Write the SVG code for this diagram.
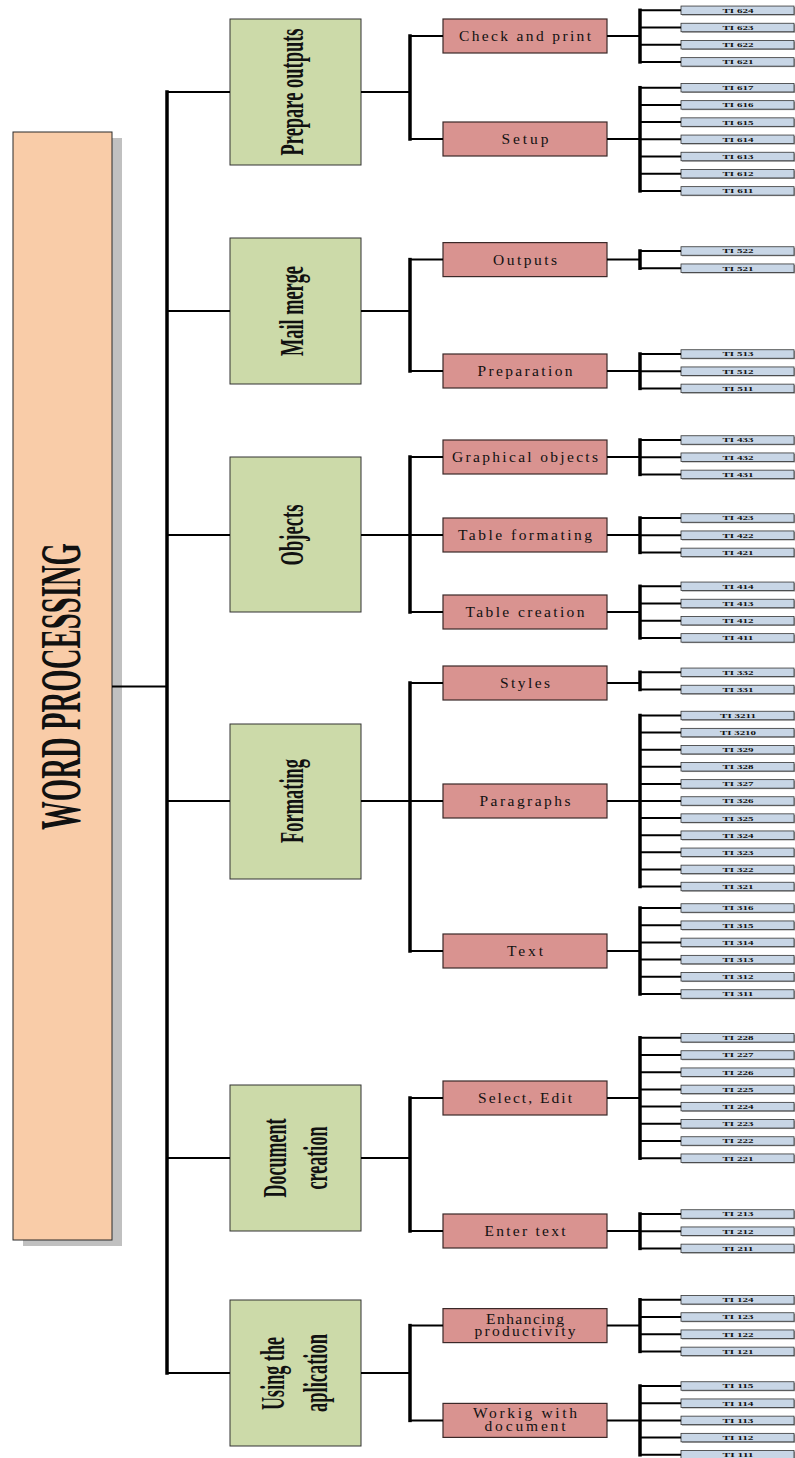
<svg xmlns="http://www.w3.org/2000/svg" width="795" height="1458" viewBox="0 0 795 1458">
  <style>
    .root { fill: #f9cca8; stroke: #2a2a2a; stroke-width: 1; }
    .shadow { fill: #c0c0c0; }
    .topic { fill: #ccdaa9; stroke: #333; stroke-width: 1; }
    .sub { fill: #d99390; stroke: #3a2828; stroke-width: 1.2; }
    .leaf { fill: #c8d6e6; stroke: #333; stroke-width: 0.8; }
    .leaf-sh { fill: #9a9a9a; }
    .t-root { font-family: "Liberation Serif", "Times New Roman", serif; font-weight: bold; font-size: 57px; fill: #111; }
    .t-topic { font-family: "Liberation Serif", "Times New Roman", serif; font-weight: bold; font-size: 34px; fill: #111; }
    .t-sub { font-family: "Liberation Serif", "Times New Roman", serif; font-size: 15.5px; fill: #111; }
    .t-leaf { font-family: "Liberation Serif", "Times New Roman", serif; font-weight: bold; font-size: 7px; fill: #111; }
    .h { fill: none; stroke: #000; stroke-width: 2; }
    .v { fill: none; stroke: #000; stroke-width: 3.5; stroke-linecap: square; }
  </style>

  <defs>
    <g id="item-box">
      <rect class="leaf-sh" x="682" y="-3.25" width="113" height="8.5"/>
      <rect class="leaf" x="681" y="-4.25" width="113" height="8.5"/>
    </g>
  </defs>

  <!-- root -->
  <g id="word-processing">
    <rect class="shadow" x="23" y="138" width="99" height="1108"/>
    <rect class="root" x="13" y="132" width="99" height="1108"/>
    <text class="t-root" transform="translate(80,686.5) rotate(-90)" text-anchor="middle" textLength="287" lengthAdjust="spacingAndGlyphs">WORD PROCESSING</text>
  </g>

  <!-- topics -->
  <g id="prepare-outputs">
    <rect class="topic" x="230" y="19" width="131" height="146"/>
    <text class="t-topic" transform="translate(303,92) rotate(-90)" text-anchor="middle" textLength="127" lengthAdjust="spacingAndGlyphs">Prepare outputs</text>
  </g>
  <g id="mail-merge">
    <rect class="topic" x="230" y="238" width="131" height="146"/>
    <text class="t-topic" transform="translate(303,311) rotate(-90)" text-anchor="middle" textLength="90" lengthAdjust="spacingAndGlyphs">Mail merge</text>
  </g>
  <g id="objects">
    <rect class="topic" x="230" y="457" width="131" height="155"/>
    <text class="t-topic" transform="translate(303,535) rotate(-90)" text-anchor="middle" textLength="61" lengthAdjust="spacingAndGlyphs">Objects</text>
  </g>
  <g id="formating">
    <rect class="topic" x="230" y="724" width="131" height="155"/>
    <text class="t-topic" transform="translate(303,801) rotate(-90)" text-anchor="middle" textLength="84" lengthAdjust="spacingAndGlyphs">Formating</text>
  </g>
  <g id="document-creation">
    <rect class="topic" x="230" y="1085" width="131" height="146"/>
    <text class="t-topic" transform="translate(286,1158) rotate(-90)" text-anchor="middle" textLength="79" lengthAdjust="spacingAndGlyphs">Document</text>
    <text class="t-topic" transform="translate(327,1158) rotate(-90)" text-anchor="middle" textLength="63" lengthAdjust="spacingAndGlyphs">creation</text>
  </g>
  <g id="using-the-aplication">
    <rect class="topic" x="230" y="1300" width="131" height="146"/>
    <text class="t-topic" transform="translate(284,1373.5) rotate(-90)" text-anchor="middle" textLength="73" lengthAdjust="spacingAndGlyphs">Using the</text>
    <text class="t-topic" transform="translate(327,1373) rotate(-90)" text-anchor="middle" textLength="78" lengthAdjust="spacingAndGlyphs">aplication</text>
  </g>

  <!-- subtopics -->
  <g id="check-and-print" transform="translate(0,36)">
    <rect class="sub" x="443" y="-17" width="164" height="34"/>
    <text class="t-sub" x="525" y="5" text-anchor="middle" textLength="132" lengthAdjust="spacing">Check and print</text>
  </g>
  <g id="setup" transform="translate(0,139)">
    <rect class="sub" x="443" y="-17" width="164" height="34"/>
    <text class="t-sub" x="525" y="5" text-anchor="middle" textLength="47" lengthAdjust="spacing">Setup</text>
  </g>
  <g id="outputs" transform="translate(0,259.6)">
    <rect class="sub" x="443" y="-17" width="164" height="34"/>
    <text class="t-sub" x="525" y="5" text-anchor="middle" textLength="64" lengthAdjust="spacing">Outputs</text>
  </g>
  <g id="preparation" transform="translate(0,371)">
    <rect class="sub" x="443" y="-17" width="164" height="34"/>
    <text class="t-sub" x="525" y="5" text-anchor="middle" textLength="95" lengthAdjust="spacing">Preparation</text>
  </g>
  <g id="graphical-objects" transform="translate(0,457)">
    <rect class="sub" x="443" y="-17" width="164" height="34"/>
    <text class="t-sub" x="525" y="5" text-anchor="middle" textLength="146" lengthAdjust="spacing">Graphical objects</text>
  </g>
  <g id="table-formating" transform="translate(0,535)">
    <rect class="sub" x="443" y="-17" width="164" height="34"/>
    <text class="t-sub" x="525" y="5" text-anchor="middle" textLength="134" lengthAdjust="spacing">Table formating</text>
  </g>
  <g id="table-creation" transform="translate(0,612)">
    <rect class="sub" x="443" y="-17" width="164" height="34"/>
    <text class="t-sub" x="525" y="5" text-anchor="middle" textLength="119" lengthAdjust="spacing">Table creation</text>
  </g>
  <g id="styles" transform="translate(0,683)">
    <rect class="sub" x="443" y="-17" width="164" height="34"/>
    <text class="t-sub" x="525" y="5" text-anchor="middle" textLength="50" lengthAdjust="spacing">Styles</text>
  </g>
  <g id="paragraphs" transform="translate(0,801)">
    <rect class="sub" x="443" y="-17" width="164" height="34"/>
    <text class="t-sub" x="525" y="5" text-anchor="middle" textLength="91" lengthAdjust="spacing">Paragraphs</text>
  </g>
  <g id="text" transform="translate(0,951)">
    <rect class="sub" x="443" y="-17" width="164" height="34"/>
    <text class="t-sub" x="525" y="5" text-anchor="middle" textLength="36" lengthAdjust="spacing">Text</text>
  </g>
  <g id="select-edit" transform="translate(0,1098)">
    <rect class="sub" x="443" y="-17" width="164" height="34"/>
    <text class="t-sub" x="525" y="5" text-anchor="middle" textLength="94" lengthAdjust="spacing">Select, Edit</text>
  </g>
  <g id="enter-text" transform="translate(0,1231)">
    <rect class="sub" x="443" y="-17" width="164" height="34"/>
    <text class="t-sub" x="525" y="5" text-anchor="middle" textLength="81" lengthAdjust="spacing">Enter text</text>
  </g>
  <g id="enhancing-productivity" transform="translate(0,1325.6)">
    <rect class="sub" x="443" y="-17" width="164" height="34"/>
    <text class="t-sub" x="525" y="-2" text-anchor="middle" textLength="78" lengthAdjust="spacing">Enhancing</text>
    <text class="t-sub" x="525" y="10.5" text-anchor="middle" textLength="101" lengthAdjust="spacing">productivity</text>
  </g>
  <g id="workig-with-document" transform="translate(0,1420.4)">
    <rect class="sub" x="443" y="-17" width="164" height="34"/>
    <text class="t-sub" x="525" y="-2.5" text-anchor="middle" textLength="104" lengthAdjust="spacing">Workig with</text>
    <text class="t-sub" x="525" y="10.5" text-anchor="middle" textLength="81" lengthAdjust="spacing">document</text>
  </g>

  <!-- items -->
  <g id="ti-624" transform="translate(0,10.3)"><use href="#item-box"/><text class="t-leaf" x="738" y="2.4" text-anchor="middle" textLength="31" lengthAdjust="spacingAndGlyphs">TI 624</text></g>
  <g id="ti-623" transform="translate(0,27.5)"><use href="#item-box"/><text class="t-leaf" x="738" y="2.4" text-anchor="middle" textLength="31" lengthAdjust="spacingAndGlyphs">TI 623</text></g>
  <g id="ti-622" transform="translate(0,44.7)"><use href="#item-box"/><text class="t-leaf" x="738" y="2.4" text-anchor="middle" textLength="31" lengthAdjust="spacingAndGlyphs">TI 622</text></g>
  <g id="ti-621" transform="translate(0,61.9)"><use href="#item-box"/><text class="t-leaf" x="738" y="2.4" text-anchor="middle" textLength="31" lengthAdjust="spacingAndGlyphs">TI 621</text></g>

  <g id="ti-617" transform="translate(0,87.7)"><use href="#item-box"/><text class="t-leaf" x="738" y="2.4" text-anchor="middle" textLength="31" lengthAdjust="spacingAndGlyphs">TI 617</text></g>
  <g id="ti-616" transform="translate(0,104.9)"><use href="#item-box"/><text class="t-leaf" x="738" y="2.4" text-anchor="middle" textLength="31" lengthAdjust="spacingAndGlyphs">TI 616</text></g>
  <g id="ti-615" transform="translate(0,122.1)"><use href="#item-box"/><text class="t-leaf" x="738" y="2.4" text-anchor="middle" textLength="31" lengthAdjust="spacingAndGlyphs">TI 615</text></g>
  <g id="ti-614" transform="translate(0,139.3)"><use href="#item-box"/><text class="t-leaf" x="738" y="2.4" text-anchor="middle" textLength="31" lengthAdjust="spacingAndGlyphs">TI 614</text></g>
  <g id="ti-613" transform="translate(0,156.5)"><use href="#item-box"/><text class="t-leaf" x="738" y="2.4" text-anchor="middle" textLength="31" lengthAdjust="spacingAndGlyphs">TI 613</text></g>
  <g id="ti-612" transform="translate(0,173.7)"><use href="#item-box"/><text class="t-leaf" x="738" y="2.4" text-anchor="middle" textLength="31" lengthAdjust="spacingAndGlyphs">TI 612</text></g>
  <g id="ti-611" transform="translate(0,190.9)"><use href="#item-box"/><text class="t-leaf" x="738" y="2.4" text-anchor="middle" textLength="31" lengthAdjust="spacingAndGlyphs">TI 611</text></g>

  <g id="ti-522" transform="translate(0,251)"><use href="#item-box"/><text class="t-leaf" x="738" y="2.4" text-anchor="middle" textLength="31" lengthAdjust="spacingAndGlyphs">TI 522</text></g>
  <g id="ti-521" transform="translate(0,268.2)"><use href="#item-box"/><text class="t-leaf" x="738" y="2.4" text-anchor="middle" textLength="31" lengthAdjust="spacingAndGlyphs">TI 521</text></g>

  <g id="ti-513" transform="translate(0,354)"><use href="#item-box"/><text class="t-leaf" x="738" y="2.4" text-anchor="middle" textLength="31" lengthAdjust="spacingAndGlyphs">TI 513</text></g>
  <g id="ti-512" transform="translate(0,371.2)"><use href="#item-box"/><text class="t-leaf" x="738" y="2.4" text-anchor="middle" textLength="31" lengthAdjust="spacingAndGlyphs">TI 512</text></g>
  <g id="ti-511" transform="translate(0,388.4)"><use href="#item-box"/><text class="t-leaf" x="738" y="2.4" text-anchor="middle" textLength="31" lengthAdjust="spacingAndGlyphs">TI 511</text></g>

  <g id="ti-433" transform="translate(0,440)"><use href="#item-box"/><text class="t-leaf" x="738" y="2.4" text-anchor="middle" textLength="31" lengthAdjust="spacingAndGlyphs">TI 433</text></g>
  <g id="ti-432" transform="translate(0,457.2)"><use href="#item-box"/><text class="t-leaf" x="738" y="2.4" text-anchor="middle" textLength="31" lengthAdjust="spacingAndGlyphs">TI 432</text></g>
  <g id="ti-431" transform="translate(0,474.4)"><use href="#item-box"/><text class="t-leaf" x="738" y="2.4" text-anchor="middle" textLength="31" lengthAdjust="spacingAndGlyphs">TI 431</text></g>

  <g id="ti-423" transform="translate(0,518)"><use href="#item-box"/><text class="t-leaf" x="738" y="2.4" text-anchor="middle" textLength="31" lengthAdjust="spacingAndGlyphs">TI 423</text></g>
  <g id="ti-422" transform="translate(0,535.2)"><use href="#item-box"/><text class="t-leaf" x="738" y="2.4" text-anchor="middle" textLength="31" lengthAdjust="spacingAndGlyphs">TI 422</text></g>
  <g id="ti-421" transform="translate(0,552.4)"><use href="#item-box"/><text class="t-leaf" x="738" y="2.4" text-anchor="middle" textLength="31" lengthAdjust="spacingAndGlyphs">TI 421</text></g>

  <g id="ti-414" transform="translate(0,586.3)"><use href="#item-box"/><text class="t-leaf" x="738" y="2.4" text-anchor="middle" textLength="31" lengthAdjust="spacingAndGlyphs">TI 414</text></g>
  <g id="ti-413" transform="translate(0,603.5)"><use href="#item-box"/><text class="t-leaf" x="738" y="2.4" text-anchor="middle" textLength="31" lengthAdjust="spacingAndGlyphs">TI 413</text></g>
  <g id="ti-412" transform="translate(0,620.7)"><use href="#item-box"/><text class="t-leaf" x="738" y="2.4" text-anchor="middle" textLength="31" lengthAdjust="spacingAndGlyphs">TI 412</text></g>
  <g id="ti-411" transform="translate(0,637.9)"><use href="#item-box"/><text class="t-leaf" x="738" y="2.4" text-anchor="middle" textLength="31" lengthAdjust="spacingAndGlyphs">TI 411</text></g>

  <g id="ti-332" transform="translate(0,672.3)"><use href="#item-box"/><text class="t-leaf" x="738" y="2.4" text-anchor="middle" textLength="31" lengthAdjust="spacingAndGlyphs">TI 332</text></g>
  <g id="ti-331" transform="translate(0,689.5)"><use href="#item-box"/><text class="t-leaf" x="738" y="2.4" text-anchor="middle" textLength="31" lengthAdjust="spacingAndGlyphs">TI 331</text></g>

  <g id="ti-3211" transform="translate(0,715.5)"><use href="#item-box"/><text class="t-leaf" x="738" y="2.4" text-anchor="middle" textLength="36" lengthAdjust="spacingAndGlyphs">TI 3211</text></g>
  <g id="ti-3210" transform="translate(0,732.6)"><use href="#item-box"/><text class="t-leaf" x="738" y="2.4" text-anchor="middle" textLength="36" lengthAdjust="spacingAndGlyphs">TI 3210</text></g>
  <g id="ti-329" transform="translate(0,749.7)"><use href="#item-box"/><text class="t-leaf" x="738" y="2.4" text-anchor="middle" textLength="31" lengthAdjust="spacingAndGlyphs">TI 329</text></g>
  <g id="ti-328" transform="translate(0,766.8)"><use href="#item-box"/><text class="t-leaf" x="738" y="2.4" text-anchor="middle" textLength="31" lengthAdjust="spacingAndGlyphs">TI 328</text></g>
  <g id="ti-327" transform="translate(0,783.9)"><use href="#item-box"/><text class="t-leaf" x="738" y="2.4" text-anchor="middle" textLength="31" lengthAdjust="spacingAndGlyphs">TI 327</text></g>
  <g id="ti-326" transform="translate(0,801)"><use href="#item-box"/><text class="t-leaf" x="738" y="2.4" text-anchor="middle" textLength="31" lengthAdjust="spacingAndGlyphs">TI 326</text></g>
  <g id="ti-325" transform="translate(0,818.1)"><use href="#item-box"/><text class="t-leaf" x="738" y="2.4" text-anchor="middle" textLength="31" lengthAdjust="spacingAndGlyphs">TI 325</text></g>
  <g id="ti-324" transform="translate(0,835.2)"><use href="#item-box"/><text class="t-leaf" x="738" y="2.4" text-anchor="middle" textLength="31" lengthAdjust="spacingAndGlyphs">TI 324</text></g>
  <g id="ti-323" transform="translate(0,852.3)"><use href="#item-box"/><text class="t-leaf" x="738" y="2.4" text-anchor="middle" textLength="31" lengthAdjust="spacingAndGlyphs">TI 323</text></g>
  <g id="ti-322" transform="translate(0,869.4)"><use href="#item-box"/><text class="t-leaf" x="738" y="2.4" text-anchor="middle" textLength="31" lengthAdjust="spacingAndGlyphs">TI 322</text></g>
  <g id="ti-321" transform="translate(0,886.5)"><use href="#item-box"/><text class="t-leaf" x="738" y="2.4" text-anchor="middle" textLength="31" lengthAdjust="spacingAndGlyphs">TI 321</text></g>

  <g id="ti-316" transform="translate(0,908)"><use href="#item-box"/><text class="t-leaf" x="738" y="2.4" text-anchor="middle" textLength="31" lengthAdjust="spacingAndGlyphs">TI 316</text></g>
  <g id="ti-315" transform="translate(0,925.2)"><use href="#item-box"/><text class="t-leaf" x="738" y="2.4" text-anchor="middle" textLength="31" lengthAdjust="spacingAndGlyphs">TI 315</text></g>
  <g id="ti-314" transform="translate(0,942.4)"><use href="#item-box"/><text class="t-leaf" x="738" y="2.4" text-anchor="middle" textLength="31" lengthAdjust="spacingAndGlyphs">TI 314</text></g>
  <g id="ti-313" transform="translate(0,959.6)"><use href="#item-box"/><text class="t-leaf" x="738" y="2.4" text-anchor="middle" textLength="31" lengthAdjust="spacingAndGlyphs">TI 313</text></g>
  <g id="ti-312" transform="translate(0,976.8)"><use href="#item-box"/><text class="t-leaf" x="738" y="2.4" text-anchor="middle" textLength="31" lengthAdjust="spacingAndGlyphs">TI 312</text></g>
  <g id="ti-311" transform="translate(0,994)"><use href="#item-box"/><text class="t-leaf" x="738" y="2.4" text-anchor="middle" textLength="31" lengthAdjust="spacingAndGlyphs">TI 311</text></g>

  <g id="ti-228" transform="translate(0,1037.8)"><use href="#item-box"/><text class="t-leaf" x="738" y="2.4" text-anchor="middle" textLength="31" lengthAdjust="spacingAndGlyphs">TI 228</text></g>
  <g id="ti-227" transform="translate(0,1055)"><use href="#item-box"/><text class="t-leaf" x="738" y="2.4" text-anchor="middle" textLength="31" lengthAdjust="spacingAndGlyphs">TI 227</text></g>
  <g id="ti-226" transform="translate(0,1072.2)"><use href="#item-box"/><text class="t-leaf" x="738" y="2.4" text-anchor="middle" textLength="31" lengthAdjust="spacingAndGlyphs">TI 226</text></g>
  <g id="ti-225" transform="translate(0,1089.4)"><use href="#item-box"/><text class="t-leaf" x="738" y="2.4" text-anchor="middle" textLength="31" lengthAdjust="spacingAndGlyphs">TI 225</text></g>
  <g id="ti-224" transform="translate(0,1106.6)"><use href="#item-box"/><text class="t-leaf" x="738" y="2.4" text-anchor="middle" textLength="31" lengthAdjust="spacingAndGlyphs">TI 224</text></g>
  <g id="ti-223" transform="translate(0,1123.8)"><use href="#item-box"/><text class="t-leaf" x="738" y="2.4" text-anchor="middle" textLength="31" lengthAdjust="spacingAndGlyphs">TI 223</text></g>
  <g id="ti-222" transform="translate(0,1141)"><use href="#item-box"/><text class="t-leaf" x="738" y="2.4" text-anchor="middle" textLength="31" lengthAdjust="spacingAndGlyphs">TI 222</text></g>
  <g id="ti-221" transform="translate(0,1158.2)"><use href="#item-box"/><text class="t-leaf" x="738" y="2.4" text-anchor="middle" textLength="31" lengthAdjust="spacingAndGlyphs">TI 221</text></g>

  <g id="ti-213" transform="translate(0,1214)"><use href="#item-box"/><text class="t-leaf" x="738" y="2.4" text-anchor="middle" textLength="31" lengthAdjust="spacingAndGlyphs">TI 213</text></g>
  <g id="ti-212" transform="translate(0,1231.2)"><use href="#item-box"/><text class="t-leaf" x="738" y="2.4" text-anchor="middle" textLength="31" lengthAdjust="spacingAndGlyphs">TI 212</text></g>
  <g id="ti-211" transform="translate(0,1248.4)"><use href="#item-box"/><text class="t-leaf" x="738" y="2.4" text-anchor="middle" textLength="31" lengthAdjust="spacingAndGlyphs">TI 211</text></g>

  <g id="ti-124" transform="translate(0,1299.8)"><use href="#item-box"/><text class="t-leaf" x="738" y="2.4" text-anchor="middle" textLength="31" lengthAdjust="spacingAndGlyphs">TI 124</text></g>
  <g id="ti-123" transform="translate(0,1317)"><use href="#item-box"/><text class="t-leaf" x="738" y="2.4" text-anchor="middle" textLength="31" lengthAdjust="spacingAndGlyphs">TI 123</text></g>
  <g id="ti-122" transform="translate(0,1334.2)"><use href="#item-box"/><text class="t-leaf" x="738" y="2.4" text-anchor="middle" textLength="31" lengthAdjust="spacingAndGlyphs">TI 122</text></g>
  <g id="ti-121" transform="translate(0,1351.4)"><use href="#item-box"/><text class="t-leaf" x="738" y="2.4" text-anchor="middle" textLength="31" lengthAdjust="spacingAndGlyphs">TI 121</text></g>

  <g id="ti-115" transform="translate(0,1386)"><use href="#item-box"/><text class="t-leaf" x="738" y="2.4" text-anchor="middle" textLength="31" lengthAdjust="spacingAndGlyphs">TI 115</text></g>
  <g id="ti-114" transform="translate(0,1403.2)"><use href="#item-box"/><text class="t-leaf" x="738" y="2.4" text-anchor="middle" textLength="31" lengthAdjust="spacingAndGlyphs">TI 114</text></g>
  <g id="ti-113" transform="translate(0,1420.4)"><use href="#item-box"/><text class="t-leaf" x="738" y="2.4" text-anchor="middle" textLength="31" lengthAdjust="spacingAndGlyphs">TI 113</text></g>
  <g id="ti-112" transform="translate(0,1437.6)"><use href="#item-box"/><text class="t-leaf" x="738" y="2.4" text-anchor="middle" textLength="31" lengthAdjust="spacingAndGlyphs">TI 112</text></g>
  <g id="ti-111" transform="translate(0,1454.8)"><use href="#item-box"/><text class="t-leaf" x="738" y="2.4" text-anchor="middle" textLength="31" lengthAdjust="spacingAndGlyphs">TI 111</text></g>

  <!-- connectors, drawn last so they run over the root's shadow -->
  <g id="connectors">
    <!-- root to topics -->
    <path class="h" d="M112,686.5 H167"/>
    <path class="v" d="M167,92 V1373"/>
    <path class="h" d="M167,92 H230 M167,311 H230 M167,535 H230 M167,801 H230 M167,1158 H230 M167,1373 H230"/>

    <!-- topics to subtopics -->
    <path class="h" d="M361,92 H410 M410,36 H443 M410,139 H443"/>
    <path class="v" d="M410,36 V139"/>
    <path class="h" d="M361,311 H410 M410,259.6 H443 M410,371 H443"/>
    <path class="v" d="M410,259.6 V371"/>
    <path class="h" d="M361,535 H410 M410,457 H443 M410,535 H443 M410,612 H443"/>
    <path class="v" d="M410,457 V612"/>
    <path class="h" d="M361,801 H410 M410,683 H443 M410,801 H443 M410,951 H443"/>
    <path class="v" d="M410,683 V951"/>
    <path class="h" d="M361,1158 H410 M410,1098 H443 M410,1231 H443"/>
    <path class="v" d="M410,1098 V1231"/>
    <path class="h" d="M361,1373 H410 M410,1325.6 H443 M410,1420.4 H443"/>
    <path class="v" d="M410,1325.6 V1420.4"/>

    <!-- subtopics to items -->
    <path class="h" d="M607,36 H640 M640,10.3 H681 M640,27.5 H681 M640,44.7 H681 M640,61.9 H681"/>
    <path class="v" d="M640,10.3 V61.9"/>
    <path class="h" d="M607,139 H640 M640,87.7 H681 M640,104.9 H681 M640,122.1 H681 M640,139.3 H681 M640,156.5 H681 M640,173.7 H681 M640,190.9 H681"/>
    <path class="v" d="M640,87.7 V190.9"/>
    <path class="h" d="M607,259.6 H640 M640,251 H681 M640,268.2 H681"/>
    <path class="v" d="M640,251 V268.2"/>
    <path class="h" d="M607,371 H640 M640,354 H681 M640,371.2 H681 M640,388.4 H681"/>
    <path class="v" d="M640,354 V388.4"/>
    <path class="h" d="M607,457 H640 M640,440 H681 M640,457.2 H681 M640,474.4 H681"/>
    <path class="v" d="M640,440 V474.4"/>
    <path class="h" d="M607,535 H640 M640,518 H681 M640,535.2 H681 M640,552.4 H681"/>
    <path class="v" d="M640,518 V552.4"/>
    <path class="h" d="M607,612 H640 M640,586.3 H681 M640,603.5 H681 M640,620.7 H681 M640,637.9 H681"/>
    <path class="v" d="M640,586.3 V637.9"/>
    <path class="h" d="M607,683 H640 M640,672.3 H681 M640,689.5 H681"/>
    <path class="v" d="M640,672.3 V689.5"/>
    <path class="h" d="M607,801 H640 M640,715.5 H681 M640,732.6 H681 M640,749.7 H681 M640,766.8 H681 M640,783.9 H681 M640,801 H681 M640,818.1 H681 M640,835.2 H681 M640,852.3 H681 M640,869.4 H681 M640,886.5 H681"/>
    <path class="v" d="M640,715.5 V886.5"/>
    <path class="h" d="M607,951 H640 M640,908 H681 M640,925.2 H681 M640,942.4 H681 M640,959.6 H681 M640,976.8 H681 M640,994 H681"/>
    <path class="v" d="M640,908 V994"/>
    <path class="h" d="M607,1098 H640 M640,1037.8 H681 M640,1055 H681 M640,1072.2 H681 M640,1089.4 H681 M640,1106.6 H681 M640,1123.8 H681 M640,1141 H681 M640,1158.2 H681"/>
    <path class="v" d="M640,1037.8 V1158.2"/>
    <path class="h" d="M607,1231 H640 M640,1214 H681 M640,1231.2 H681 M640,1248.4 H681"/>
    <path class="v" d="M640,1214 V1248.4"/>
    <path class="h" d="M607,1325.6 H640 M640,1299.8 H681 M640,1317 H681 M640,1334.2 H681 M640,1351.4 H681"/>
    <path class="v" d="M640,1299.8 V1351.4"/>
    <path class="h" d="M607,1420.4 H640 M640,1386 H681 M640,1403.2 H681 M640,1420.4 H681 M640,1437.6 H681 M640,1454.8 H681"/>
    <path class="v" d="M640,1386 V1454.8"/>
  </g>
</svg>
